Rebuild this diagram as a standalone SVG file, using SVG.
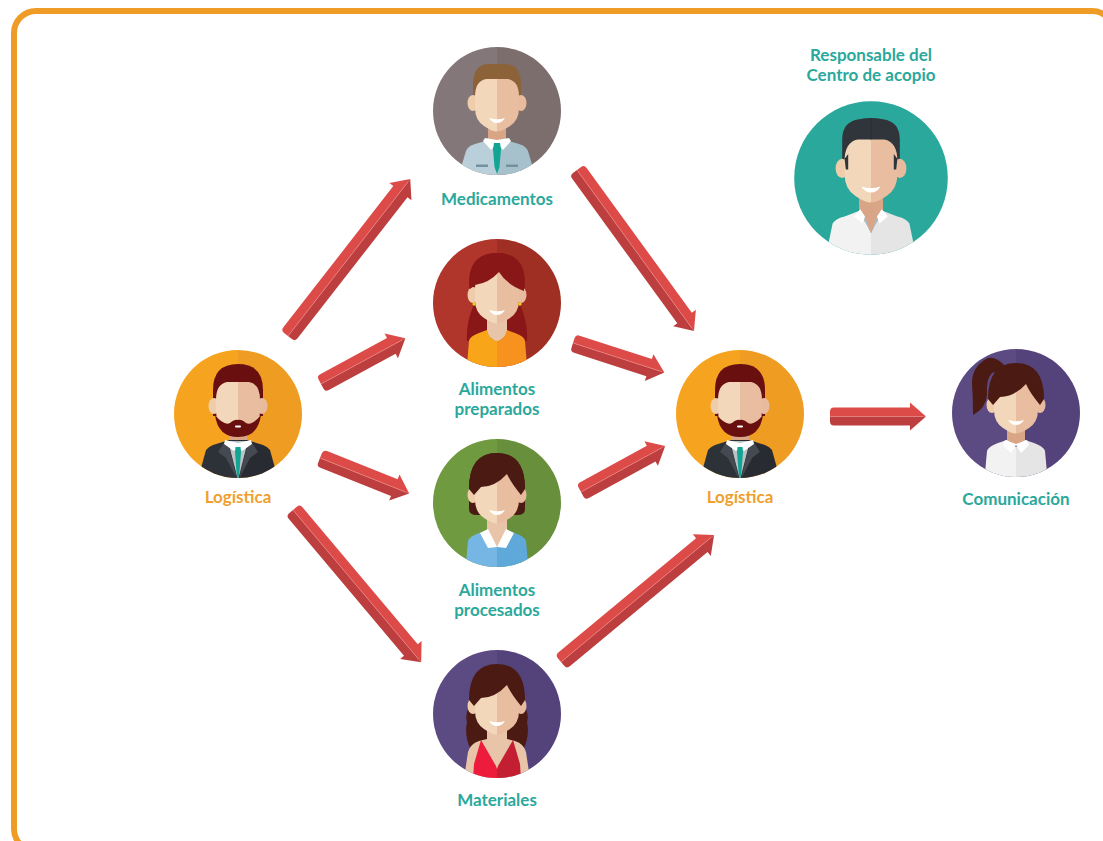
<svg xmlns="http://www.w3.org/2000/svg" xmlns:xlink="http://www.w3.org/1999/xlink" width="1103" height="841" viewBox="0 0 1103 841">
<style>
.label{font-family:"Lato","Liberation Sans",sans-serif;font-weight:700;font-size:17px;text-anchor:middle;fill:#2ba89c}
.orange{fill:#f0a02e}
.up{fill:#dd4b49}.lo{fill:#bd3e3e}.seam{stroke:#ee8a86;stroke-width:.6;fill:none}
.skinL{fill:#f2d7bb}.skinR{fill:#e8bda0}.earL{fill:#efcdaa}.earR{fill:#e8bb9e}.neck{fill:#d8a686}.neckF{fill:#e8c4a8}
.white{fill:#fff}.teal{fill:#12a594}
.brown{fill:#4a1a13}
</style>
<defs>
<clipPath id="disc"><circle r="64"/></clipPath>
<path id="halfL" d="M0,-64A64,64 0 0 0 0,64Z"/>
<path id="halfR" d="M0,-64A64,64 0 0 1 0,64Z"/>
<g id="head">
<ellipse class="earL" cx="-24" cy="-8" rx="5.500" ry="8"/>
<ellipse class="earR" cx="24" cy="-8" rx="5.500" ry="8"/>
<path class="skinL" d="M0,-32H-11Q-22,-30 -22,-14V-3Q-22,9 -13,15Q-5,20.500 0,20.500Z"/>
<path class="skinR" d="M0,-32H11Q22,-30 22,-14V-3Q22,9 13,15Q5,20.500 0,20.500Z"/>
</g>
<path id="smile" class="white" d="M-8,7Q0,9.500 8,7Q5,12 0,12Q-5,12 -8,7Z"/>
<path id="fringe" d="M-23,-8L-28,-14Q-28,-50 0,-50Q28,-50 28,-14L24,-8Q14,-20 10,-29Q-2,-16 -16,-16Z"/>
<g id="bearded">
<use href="#halfL" fill="#f6a41f"/><use href="#halfR" fill="#ee9c22"/>
<g clip-path="url(#disc)">
<path fill="#6a0f0f" d="M-25,2V-24Q-25,-50 0,-50Q25,-50 25,-24V2Z"/>
<path class="neck" d="M-9,14H9V30H-9Z"/>
<path fill="#2d3138" d="M-37,54L-32,36Q-30,33 -25,31L-9,26H0V66H-37Z"/>
<path fill="#282b32" d="M37,54L32,36Q30,33 25,31L9,26H0V66H37Z"/>
<path fill="#bcc3c6" d="M-10,27H10L0,66Z"/>
<path fill="#444952" d="M-13,27L-20,38L-12,44L-1,65L-9,32Z"/>
<path fill="#444952" d="M13,27L20,38L12,44L1,65L9,32Z"/>
<path class="white" d="M-13,26L0,29L13,26L14,30L4,37L0,33L-4,37L-14,30Z"/>
<path class="teal" d="M-2.500,33H2.500L3,38L1.500,58L0,66L-1.500,58L-3,38Z"/>
</g>
<use href="#head"/>
<path fill="#6a0f0f" d="M-23,1Q-20,23 0,23Q20,23 23,1Q14,12 8,9Q3,5 0,6Q-3,5 -8,9Q-14,12 -23,1Z"/>
<rect class="white" x="-3" y="11.500" width="6" height="2" rx="1"/>
</g>
<g id="arrow-short">
<path class="up" d="M4,-9H80V-14L96,0H0V-5Q0,-9 4,-9Z"/>
<path class="lo" d="M4,9H80V14L96,0H0V5Q0,9 4,9Z"/>
<path class="seam" d="M1,0H92"/>
</g>
<g id="arrow-long">
<path class="up" d="M4,-9H183V-14L199,0H0V-5Q0,-9 4,-9Z"/>
<path class="lo" d="M4,9H183V14L199,0H0V5Q0,9 4,9Z"/>
<path class="seam" d="M1,0H195"/>
</g>
</defs>

<rect id="frame" x="14" y="11" width="1100" height="840" rx="22" fill="#fff" stroke="#ee9c26" stroke-width="6"/>

<g id="connectors">
<use href="#arrow-long" transform="translate(288,336) rotate(-52.1)"/>
<use href="#arrow-short" transform="translate(321,384) rotate(-28.5)"/>
<use href="#arrow-short" transform="translate(320,458) rotate(21.7)"/>
<use href="#arrow-long" transform="translate(293,510) rotate(49.9)"/>
<use href="#arrow-long" transform="translate(577,170) rotate(54)"/>
<use href="#arrow-short" transform="translate(573,343) rotate(17.9)"/>
<use href="#arrow-short" transform="translate(581,492) rotate(-28.7)"/>
<use href="#arrow-long" transform="translate(561,662) rotate(-39.7)"/>
<use href="#arrow-short" transform="translate(830,416.5)"/>
</g>

<g id="medicamentos">
<g transform="translate(497,111)">
<use href="#halfL" fill="#84777a"/><use href="#halfR" fill="#7b6e6d"/>
<g clip-path="url(#disc)">
<path fill="#8c6239" d="M-24,-12V-26Q-24,-47 -8,-47H8Q24,-47 24,-26V-12Z"/>
<path class="neck" d="M-9,14H9V32H-9Z"/>
<path fill="#b9cfd9" d="M-37,60L-31,40Q-29,35 -22,33L-8,29H0V66H-37Z"/>
<path fill="#a6c0cc" d="M37,60L31,40Q29,35 22,33L8,29H0V66H37Z"/>
<path class="white" d="M-12,27L0,29L12,27L14,30L6,39L0,32L-6,39L-14,30Z"/>
<path class="teal" d="M-3,32H3L4,38L2.500,56L0,63L-2.500,56L-4,38Z"/>
<path fill="#74919f" d="M-21,53.500H-9V56H-21ZM9,53.500H21V56H9Z"/>
</g>
<use href="#head"/><use href="#smile"/>
</g>
<text class="label" x="497" y="205">Medicamentos</text>
</g>

<g id="logistica-origen">
<use href="#bearded" transform="translate(238,414)"/>
<text class="label orange" x="238" y="503">Logística</text>
</g>

<g id="alimentos-preparados">
<g transform="translate(497,303)">
<use href="#halfL" fill="#b0352a"/><use href="#halfR" fill="#a02f23"/>
<g clip-path="url(#disc)">
<path fill="#8a1717" d="M-28,-20Q-28,-50 0,-50Q28,-50 28,-20Q27,-4 24,4Q31,20 30,38H-30Q-31,20 -24,4Q-27,-4 -28,-20Z"/>
<path class="neckF" d="M-10,14H10V32L0,40L-10,32Z"/>
<path fill="#f9a51a" d="M-30,62L-28,38Q-27,33 -18,30L-10,27Q-7,38 0,38V66H-30Z"/>
<path fill="#f7921e" d="M30,62L28,38Q27,33 18,30L10,27Q7,38 0,38V66H30Z"/>
</g>
<use href="#head"/>
<path fill="#8a1717" d="M-27,-14Q-28,-50 0,-50Q28,-50 27,-12Q10,-18 2,-31Q-8,-20 -22,-18Z"/>
<circle cx="-23" cy="1" r="1.700" fill="#f7d117"/><circle cx="23" cy="1" r="1.700" fill="#f7d117"/>
<use href="#smile"/>
</g>
<text class="label" x="497" y="395">Alimentos</text>
<text class="label" x="497" y="415">preparados</text>
</g>

<g id="alimentos-procesados">
<g transform="translate(497,503)">
<use href="#halfL" fill="#6f9a40"/><use href="#halfR" fill="#678f3c"/>
<g clip-path="url(#disc)">
<path class="brown" d="M-28,-14Q-28,-50 0,-50Q28,-50 28,-14V6Q28,12 20,12H-20Q-28,12 -28,6Z"/>
<path class="neckF" d="M-10,14H10V44H-10Z"/>
<path fill="#76b6e4" d="M-31,60L-29,38Q-27,33 -18,30L-12,28L0,44V66H-31Z"/>
<path fill="#5ea8da" d="M31,60L29,38Q27,33 18,30L12,28L0,44V66H31Z"/>
<path class="white" d="M-17,30L-9,26L0,44L-9,45Z"/>
<path class="white" d="M17,30L9,26L0,44L9,45Z"/>
</g>
<use href="#head"/><use href="#fringe" class="brown"/><use href="#smile"/>
</g>
<text class="label" x="497" y="596">Alimentos</text>
<text class="label" x="497" y="616">procesados</text>
</g>

<g id="materiales">
<g transform="translate(497,714)">
<use href="#halfL" fill="#5c4a82"/><use href="#halfR" fill="#54427a"/>
<g clip-path="url(#disc)">
<path class="brown" d="M-24,-12Q-33,-2 -30,8Q-33,22 -26,36H26Q33,22 30,8Q33,-2 24,-12Z"/>
<path class="neckF" d="M-32,58L-29,38Q-27,30 -18,27L-10,25V14H10V25L18,27Q27,30 29,38L32,58V66H-32Z"/>
<path fill="#ed1c3c" d="M-16,26L-1,52L0,55V66H-24L-23,50Z"/>
<path fill="#c41e33" d="M16,26L1,52L0,55V66H24L23,50Z"/>
</g>
<use href="#head"/><use href="#fringe" class="brown"/><use href="#smile"/>
</g>
<text class="label" x="497" y="806">Materiales</text>
</g>

<g id="logistica-destino">
<use href="#bearded" transform="translate(740,414)"/>
<text class="label orange" x="740" y="503">Logística</text>
</g>

<g id="responsable">
<text class="label" x="871" y="61">Responsable del</text>
<text class="label" x="871" y="81">Centro de acopio</text>
<g transform="translate(871,178) scale(1.2)">
<circle r="64" fill="#2ba89c"/>
<g clip-path="url(#disc)">
<path fill="#30353b" d="M-24,-8V-32Q-24,-47 -10,-49Q0,-51 10,-49Q24,-47 24,-32V-8Z"/>
<path class="neck" d="M-10,14H10V28L0,46L-10,28Z"/>
<path fill="#f2f2f2" d="M-37,62L-32,38Q-30,34 -22,32L-9,27L0,46V66H-37Z"/>
<path fill="#e5e5e5" d="M37,62L32,38Q30,34 22,32L9,27L0,46V66H37Z"/>
<path fill="#a9bcc6" d="M-6,30L0,46L-3,40L-8,32ZM6,30L0,46L3,40L8,32Z"/>
<path class="white" d="M-9,26L-14,32L-7,38L-5,32ZM9,26L14,32L7,38L5,32Z"/>
</g>
<use href="#head"/>
<path fill="#30353b" d="M-22,-16L-19,-20V-7L-21,-7ZM22,-16L19,-20V-7L21,-7Z"/>
<path stroke="#262a2f" stroke-width=".5" d="M0,-50V-32"/>
<use href="#smile"/>
</g>
</g>

<g id="comunicacion">
<g transform="translate(1016,413)">
<use href="#halfL" fill="#5c4a82"/><use href="#halfR" fill="#54427a"/>
<g clip-path="url(#disc)">
<path class="brown" d="M-12,-48Q-22,-58 -30,-54Q-44,-46 -44,-30Q-43,-14 -43,2Q-30,-5 -29,-18Q-30,-34 -24,-40Q-20,-42 -14,-40Z"/>
<path class="neck" d="M-9,14H9V32H-9Z"/>
<path fill="#f2f2f2" d="M-31,60L-29,38Q-27,33 -18,30L-9,27L0,34V66H-31Z"/>
<path fill="#e5e5e5" d="M31,60L29,38Q27,33 18,30L9,27L0,34V66H31Z"/>
<path class="white" d="M-11,27L0,31L11,27L13,32L5,40L0,32L-5,40L-13,32Z"/>
</g>
<use href="#head"/><use href="#fringe" class="brown"/><use href="#smile"/>
</g>
<text class="label" x="1016" y="505">Comunicación</text>
</g>
</svg>
